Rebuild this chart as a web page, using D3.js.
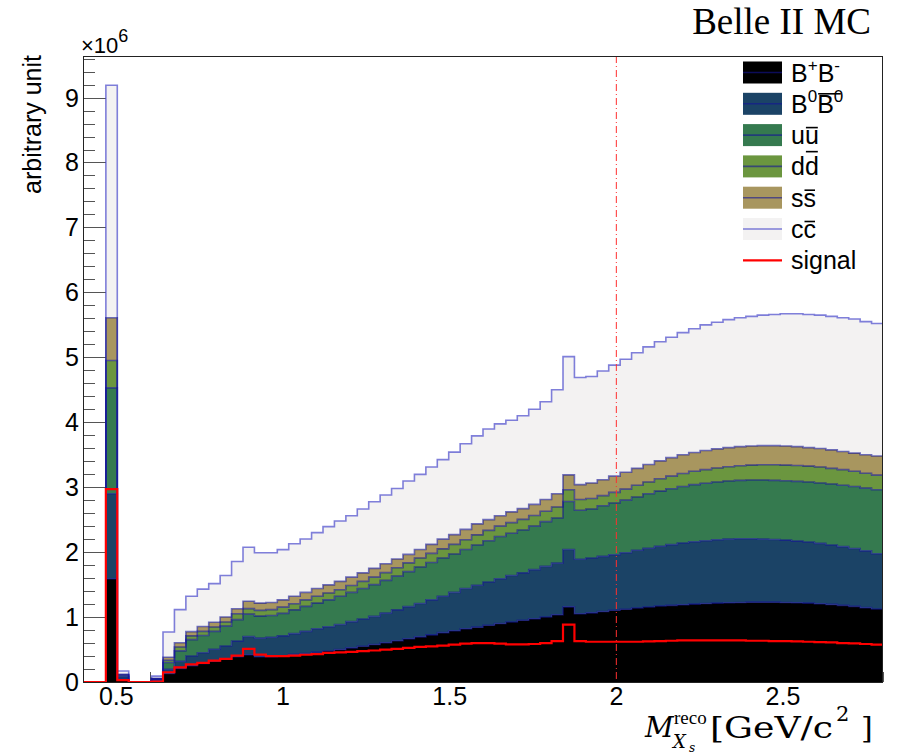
<!DOCTYPE html>
<html><head><meta charset="utf-8">
<script src="https://cdn.jsdelivr.net/npm/d3@7"></script>
<style>body{margin:0;background:#fff}svg{display:block}</style>
</head><body><svg id="c" width="904" height="754"></svg>
<script>
// ---------------- data (values in units of 10^6) ----------------
const binLow = 0.4, binHigh = 2.8, nBins = 70;
const BBpm = [0,0,1.59,0.04,0,0,0.02,
 0.13,0.21,0.252,0.285,0.32,0.356,
 0.39,0.42,0.39,0.39,0.40,0.425,0.44,0.46,0.478,
 0.50,0.526,0.55,0.577,0.605,0.635,0.665,0.695,0.725,0.76,
 0.79,0.82,0.845,0.875,0.9,0.925,0.95,0.975,1.0,1.035,
 1.157,1.05,1.065,1.085,1.105,1.12,1.14,1.155,1.17,1.18,
 1.19,1.2,1.21,1.215,1.22,1.225,1.23,1.23,1.23,1.225,
 1.22,1.215,1.205,1.195,1.18,1.165,1.145,1.125];
const B0B0bar = [0,0,1.31,0.04,0,0,0.025,
 0.065,0.11,0.148,0.165,0.185,0.199,
 0.24,0.28,0.285,0.30,0.31,0.32,0.34,0.36,0.372,
 0.385,0.404,0.42,0.433,0.455,0.475,0.495,0.515,0.54,0.56,
 0.59,0.62,0.645,0.665,0.69,0.715,0.73,0.755,0.78,0.795,
 0.883,0.84,0.845,0.85,0.855,0.87,0.89,0.905,0.92,0.935,
 0.95,0.96,0.965,0.975,0.98,0.98,0.975,0.97,0.965,0.96,
 0.95,0.94,0.93,0.915,0.905,0.89,0.875,0.85];
const uubar = [0,0,1.63,0.02,0,0,0.005,
 0.105,0.16,0.252,0.265,0.275,0.305,
 0.33,0.345,0.34,0.335,0.347,0.365,0.385,0.395,0.415,
 0.435,0.45,0.47,0.49,0.505,0.52,0.54,0.56,0.575,0.59,
 0.59,0.60,0.62,0.635,0.65,0.65,0.66,0.67,0.69,0.695,
 0.74,0.755,0.755,0.78,0.797,0.81,0.82,0.84,0.85,0.86,
 0.87,0.88,0.885,0.89,0.895,0.9,0.905,0.91,0.91,0.915,
 0.92,0.925,0.93,0.94,0.945,0.955,0.965,0.985];
const ddbar = [0,0,0.42,0.01,0,0,0.002,
 0.035,0.06,0.058,0.065,0.068,0.065,
 0.09,0.085,0.088,0.09,0.096,0.095,0.10,0.105,0.105,
 0.10,0.105,0.11,0.115,0.12,0.13,0.135,0.14,0.14,0.14,
 0.15,0.15,0.155,0.16,0.16,0.165,0.165,0.165,0.16,0.17,
 0.18,0.165,0.16,0.155,0.163,0.17,0.18,0.18,0.19,0.195,
 0.2,0.205,0.21,0.215,0.22,0.225,0.23,0.235,0.24,0.24,
 0.245,0.245,0.245,0.24,0.24,0.235,0.23,0.225];
const ssbar = [0,0,0.66,0.01,0,0,0.003,
 0.045,0.065,0.065,0.075,0.072,0.075,
 0.078,0.113,0.112,0.11,0.112,0.115,0.115,0.12,0.125,
 0.13,0.13,0.13,0.135,0.135,0.135,0.13,0.13,0.14,0.15,
 0.15,0.16,0.17,0.165,0.16,0.165,0.165,0.17,0.18,0.205,
 0.23,0.23,0.24,0.245,0.25,0.26,0.26,0.27,0.275,0.285,
 0.29,0.29,0.295,0.295,0.295,0.295,0.295,0.295,0.295,0.295,
 0.29,0.285,0.285,0.285,0.28,0.28,0.285,0.295];
const ccbar = [0,0,3.58,0.05,0,0,0.035,
 0.39,0.51,0.545,0.575,0.595,0.64,
 0.727,0.832,0.775,0.765,0.773,0.808,0.823,0.86,0.897,
 0.93,0.945,0.985,1.025,1.06,1.085,1.13,1.157,1.19,1.225,
 1.27,1.32,1.355,1.395,1.415,1.41,1.43,1.465,1.505,1.6,
 1.82,1.65,1.64,1.675,1.71,1.74,1.78,1.81,1.835,1.855,
 1.88,1.905,1.935,1.95,1.97,1.985,1.995,2.01,2.02,2.035,
 2.045,2.05,2.055,2.055,2.06,2.065,2.05,2.04];
const signal = [0,0,2.97,0.03,0,0,0.005,
 0.15,0.225,0.27,0.295,0.33,0.355,
 0.405,0.51,0.423,0.40,0.40,0.405,0.42,0.43,0.447,
 0.457,0.465,0.475,0.485,0.5,0.51,0.525,0.54,0.55,0.56,
 0.575,0.59,0.6,0.6,0.59,0.58,0.58,0.585,0.6,0.63,
 0.885,0.63,0.62,0.62,0.62,0.62,0.62,0.625,0.63,0.635,
 0.64,0.64,0.64,0.64,0.64,0.64,0.635,0.635,0.63,0.63,
 0.625,0.62,0.615,0.61,0.6,0.595,0.585,0.575];
const xTickValues = [0.5, 1, 1.5, 2, 2.5];
const xTickLabels = ["0.5", "1", "1.5", "2", "2.5"];
const yTickValues = [0,1,2,3,4,5,6,7,8,9];
const yTickLabels = ["0","1","2","3","4","5","6","7","8","9"];
const cutValue = 2.0;
const seriesKeys = ["BBpm","B0B0bar","uubar","ddbar","ssbar","ccbar"];
const seriesColors = ["#000000","#1b4366","#357a4f","#6b963f","#a8965f","#f3f2f2"];

// ---------------- drawing ----------------
const svg = d3.select("#c");
svg.append("rect").attr("width",904).attr("height",754).attr("fill","#fff");
const L = 83, R = 883, T = 56, B = 682;
const x = d3.scaleLinear().domain([binLow, binHigh]).range([L, R]);
const y = d3.scaleLinear().domain([0, 9.64]).range([B, T]);
const font = "'Liberation Sans', Arial, Helvetica, sans-serif";

// ticks (under the histograms)
const tickG = svg.append("g").attr("stroke","#555").attr("stroke-width",1);
d3.range(0, 9.61, 0.2).forEach(v => {
  const major = Math.abs(v - Math.round(v)) < 1e-6;
  const yy = Math.round(y(v)) + 0.5;
  tickG.append("line").attr("x1",L).attr("x2",L + (major ? 24 : 12)).attr("y1",yy).attr("y2",yy);
});
d3.range(0.4, 2.801, 0.1).forEach(v => {
  const major = Math.abs(v*2 - Math.round(v*2)) < 1e-6;
  const xx = Math.round(x(v)) + 0.5;
  tickG.append("line").attr("x1",xx).attr("x2",xx).attr("y1",B).attr("y2",B - (major ? 20 : 10));
});

// stacked histogram
const edges = d3.range(nBins + 1).map(i => binLow + i * (binHigh - binLow) / nBins);
const rows = d3.range(nBins).map(i => ({
  BBpm: BBpm[i], B0B0bar: B0B0bar[i], uubar: uubar[i], ddbar: ddbar[i], ssbar: ssbar[i], ccbar: ccbar[i]
}));
const stacked = d3.stack().keys(seriesKeys)(rows);
function stepPts(layer) {
  const pts = [];
  layer.forEach((d, i) => {
    pts.push({x: edges[i], lo: d[0], hi: d[1]});
    pts.push({x: edges[i+1], lo: d[0], hi: d[1]});
  });
  return pts;
}
const area = d3.area().x(d => x(d.x)).y0(d => y(d.lo)).y1(d => y(d.hi));
const topLine = d3.line().x(d => x(d.x)).y(d => y(d.hi));
const histG = svg.append("g");
stacked.forEach((layer, k) => {
  histG.append("path").attr("d", area(stepPts(layer))).attr("fill", seriesColors[k]).attr("stroke","none");
});
for (let k = stacked.length - 1; k >= 0; k--) {
  histG.append("path").attr("d", topLine(stepPts(stacked[k]))).attr("fill","none")
    .attr("stroke", k === stacked.length - 1 ? "rgba(60,60,200,0.65)" : "rgba(20,20,150,0.6)")
    .attr("stroke-width", 1.6);
}
// signal
const sigPts = [];
signal.forEach((v, i) => { sigPts.push({x: edges[i], hi: v}); sigPts.push({x: edges[i+1], hi: v}); });
histG.append("path").attr("d", topLine(sigPts)).attr("fill","none").attr("stroke","#ff0000").attr("stroke-width",2.2);

// cut line
svg.append("line").attr("x1", x(cutValue)).attr("x2", x(cutValue)).attr("y1", T).attr("y2", B)
  .attr("stroke","#ff3030").attr("stroke-width",1).attr("stroke-dasharray","7,3,1,3");

// frame
svg.append("rect").attr("x",L+0.5).attr("y",T+0.5).attr("width",R-L-1).attr("height",B-T)
  .attr("fill","none").attr("stroke","#222").attr("stroke-width",1);

// tick labels
const yl = svg.append("g").attr("font-family",font).attr("font-size",25).attr("fill","#000");
yTickValues.forEach((v,i) => {
  yl.append("text").attr("x",79).attr("y",y(v)).attr("dy","0.36em").attr("text-anchor","end").text(yTickLabels[i]);
});
xTickValues.forEach((v,i) => {
  yl.append("text").attr("x",x(v)).attr("y",705).attr("text-anchor","middle").text(xTickLabels[i]);
});
// exponent
const ex = svg.append("text").attr("font-family",font).attr("x",81).attr("y",53).attr("font-size",22);
ex.append("tspan").text("\u00d710");
ex.append("tspan").attr("dy",-11).attr("font-size",18).text("6");

// y title
svg.append("text").attr("font-family",font).attr("font-size",25)
  .attr("transform","translate(41,55) rotate(-90)").attr("text-anchor","end").text("arbitrary unit");

// title
svg.append("text").attr("font-family","'Liberation Serif', 'Times New Roman', serif").attr("font-size",37)
  .attr("x",871).attr("y",34).attr("text-anchor","end").text("Belle II MC");

// x title
const xt = svg.append("g").attr("font-family","'DejaVu Serif', serif").attr("fill","#000");
xt.append("text").attr("x",645).attr("y",737).attr("font-size",28).attr("font-style","italic").text("M");
xt.append("text").attr("x",674).attr("y",724).attr("font-size",19).attr("font-family","'Liberation Serif', serif").text("reco");
xt.append("text").attr("x",673).attr("y",748).attr("font-size",18).attr("font-style","italic").text("X");
xt.append("text").attr("x",689).attr("y",752).attr("font-size",12).attr("font-style","italic").text("s");
xt.append("text").attr("x",710).attr("y",738).attr("font-size",30).attr("textLength",123).attr("lengthAdjust","spacingAndGlyphs").text("[GeV/c");
xt.append("text").attr("x",836).attr("y",721).attr("font-size",21).text("2");
xt.append("text").attr("x",861).attr("y",738).attr("font-size",30).text("]");

// legend
const legendLabels = [
  [{t:"B"},{t:"+",sup:1},{t:"B"},{t:"-",sup:1}],
  [{t:"B"},{t:"0",sup:1},{t:"B",bar:0.76,barExtra:8},{t:"0",sup:1}],
  [{t:"u"},{t:"u",bar:0.66}],
  [{t:"d"},{t:"d",bar:0.95}],
  [{t:"s"},{t:"s",bar:0.66}],
  [{t:"c"},{t:"c",bar:0.66}],
  [{t:"signal"}]
];
const lg = svg.append("g").attr("font-family",font);
const rowY0 = 72.5, rowDy = 31.3, fs = 25;
legendLabels.forEach((segs, r) => {
  const cy = rowY0 + r * rowDy;
  if (r < seriesKeys.length) {
    lg.append("rect").attr("x",743).attr("y",cy - 11).attr("width",39).attr("height",22).attr("fill",seriesColors[r]);
    lg.append("line").attr("x1",743).attr("x2",782).attr("y1",cy).attr("y2",cy)
      .attr("stroke", r === 5 ? "rgba(60,60,200,0.65)" : "rgba(20,20,150,0.6)").attr("stroke-width",1.6);
  } else {
    lg.append("line").attr("x1",743).attr("x2",782).attr("y1",cy).attr("y2",cy).attr("stroke","#ff0000").attr("stroke-width",2.2);
  }
  const base = cy + 9;
  let cx = 791;
  segs.forEach(s => {
    const size = s.sup ? 17 : fs;
    const t = lg.append("text").attr("x",cx).attr("y", base + (s.sup ? -11 : 0)).attr("font-size",size).text(s.t);
    const w = t.node().getComputedTextLength();
    if (s.bar) {
      const by = base - s.bar * fs;
      lg.append("line").attr("x1",cx + 1).attr("x2",cx + w - 1 + (s.barExtra || 0)).attr("y1",by).attr("y2",by)
        .attr("stroke","#000").attr("stroke-width",1.6);
    }
    cx += w;
  });
});
</script></body></html>
